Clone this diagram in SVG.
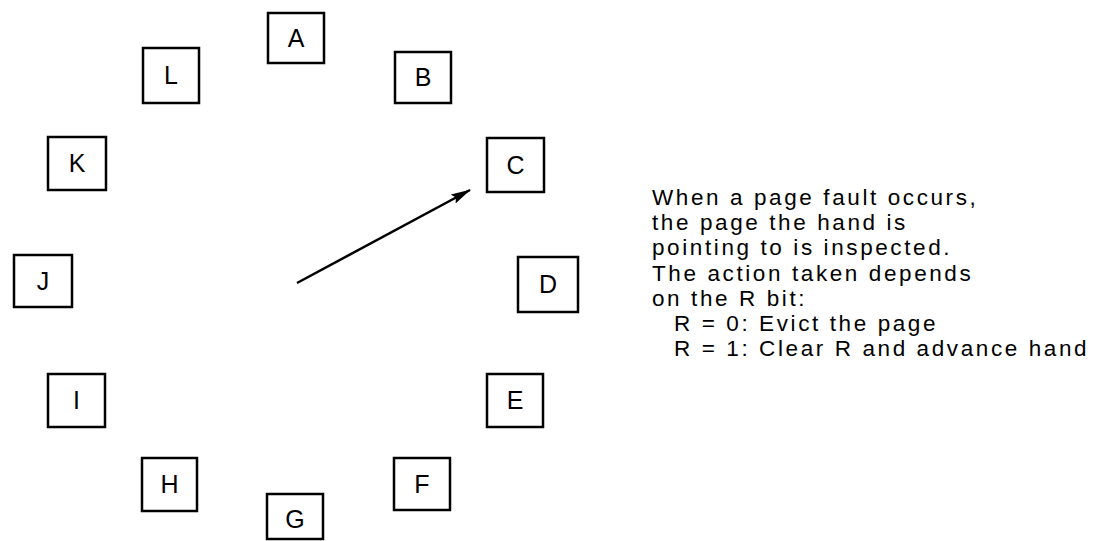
<svg xmlns="http://www.w3.org/2000/svg" width="1111" height="541" viewBox="0 0 1111 541">
<defs>
<style>
.box{fill:#fff;stroke:#000;stroke-width:2.5}
.lbl{font-family:"Liberation Sans",Arial,sans-serif;font-size:25px;fill:#000;text-anchor:middle}
.txt{font-family:"Liberation Sans",Arial,sans-serif;font-size:22.5px;fill:#000;letter-spacing:2.6px}
</style>
<marker id="ah" markerWidth="20" markerHeight="10" refX="19" refY="5" orient="auto" markerUnits="userSpaceOnUse" viewBox="0 0 20 10">
<path d="M0,0 L20,5 L0,10 L3,5 z" fill="#000"/>
</marker>
</defs>
<rect width="1111" height="541" fill="#fff"/>
<g id="A"><rect class="box" x="268" y="13" width="56" height="50"/><text class="lbl" x="296" y="47">A</text></g>
<g id="B"><rect class="box" x="395" y="52" width="56" height="51"/><text class="lbl" x="423" y="86">B</text></g>
<g id="C"><rect class="box" x="487" y="138" width="57" height="54"/><text class="lbl" x="515.5" y="174">C</text></g>
<g id="D"><rect class="box" x="518" y="257" width="60" height="55"/><text class="lbl" x="548" y="293">D</text></g>
<g id="E"><rect class="box" x="487" y="374" width="56" height="53"/><text class="lbl" x="515" y="409">E</text></g>
<g id="F"><rect class="box" x="394" y="458" width="56" height="52"/><text class="lbl" x="422" y="493">F</text></g>
<g id="G"><rect class="box" x="267" y="494" width="56" height="45"/><text class="lbl" x="295" y="528">G</text></g>
<g id="H"><rect class="box" x="142" y="458" width="55" height="53"/><text class="lbl" x="169.5" y="493">H</text></g>
<g id="I"><rect class="box" x="48" y="374" width="57" height="53"/><text class="lbl" x="76.5" y="409">I</text></g>
<g id="J"><rect class="box" x="14" y="255" width="58" height="52"/><text class="lbl" x="43" y="290">J</text></g>
<g id="K"><rect class="box" x="48" y="137" width="58" height="53"/><text class="lbl" x="77" y="172">K</text></g>
<g id="L"><rect class="box" x="143" y="48" width="56" height="55"/><text class="lbl" x="171" y="84">L</text></g>
<g id="connectors">
<line x1="297" y1="283" x2="470" y2="190" stroke="#000" stroke-width="2.5" marker-end="url(#ah)"/>
</g>
<g id="note">
<text class="txt" x="652" y="205">When a page fault occurs,</text>
<text class="txt" x="652" y="230.2">the page the hand is</text>
<text class="txt" x="652" y="255.4">pointing to is inspected.</text>
<text class="txt" x="652" y="280.6">The action taken depends</text>
<text class="txt" x="652" y="305.8">on the R bit:</text>
<text class="txt" x="674" y="331">R = 0: Evict the page</text>
<text class="txt" x="674" y="356.2">R = 1: Clear R and advance hand</text>
</g>
</svg>
